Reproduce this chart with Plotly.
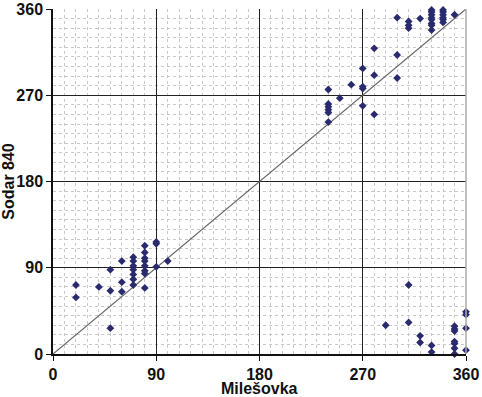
import plotly.graph_objects as go

# Milešovka (x) vs Sodar 840 (y) wind directions, degrees
mil = [20, 20, 40, 50, 50, 50, 60, 60, 60,
       70, 70, 70, 70, 70, 70, 70,
       80, 80, 80, 80, 80, 80, 80, 80,
       90, 90, 90, 100,
       240, 240, 240, 240, 240, 240, 250, 260, 270, 270, 270, 270, 280, 280, 280, 300, 300,
       300, 310, 310, 310, 320,
       330, 330, 330, 330, 330, 330, 330, 330,
       340, 340, 340, 340, 340, 340, 350,
       290, 310, 310, 320, 320, 330, 330,
       350, 350, 350, 350, 350, 350, 350,
       360, 360, 360, 360]
sodar = [72, 59, 70, 88, 66, 27, 97, 75, 65,
         101, 97, 92, 88, 83, 78, 72,
         113, 106, 100, 97, 92, 87, 84, 69,
         115, 117, 91, 97,
         276, 261, 258, 255, 252, 242, 267, 281, 298, 279, 277, 259, 319, 291, 250, 312, 288,
         351, 347, 343, 340, 350,
         359, 357, 354, 351, 349, 345, 343, 338,
         359, 357, 354, 351, 349, 346, 354,
         30, 72, 33, 19, 12, 9, 2,
         29, 26, 24, 13, 11, 6, 0,
         44, 41, 27, 4]

diag = [0, 360]
ticks = [0, 90, 180, 270, 360]
x_title = "Milešovka"
y_title = "Sodar 840"

FONT = "Liberation Sans, Arial, sans-serif"
TITLE_FONT = dict(family=FONT, size=16, color="#111111", weight="bold")

fig = go.Figure()
fig.add_trace(go.Scatter(x=diag, y=diag, mode="lines",
                         line=dict(color="#666666", width=1.2),
                         hoverinfo="skip", showlegend=False))
fig.add_trace(go.Scatter(x=mil, y=sodar, mode="markers", cliponaxis=False,
                         marker=dict(symbol="diamond", size=6, color="#2a2a6e"),
                         showlegend=False))

axis_common = dict(
    range=[0, 360], tickvals=ticks, ticktext=[str(t) for t in ticks],
    showgrid=True, gridcolor="#222222", gridwidth=1,
    minor=dict(dtick=10, showgrid=True, gridcolor="#c8c8c8", griddash="dot", gridwidth=1),
    showline=True, linecolor="#111111", linewidth=1.5,
    ticks="outside", ticklen=5, tickcolor="#111111",
    tickfont=dict(family=FONT, size=16, color="#111111", weight="bold"),
    zeroline=False, fixedrange=True, automargin=False,
)

fig.update_xaxes(**axis_common)
fig.update_yaxes(**axis_common,
                 title=dict(text=y_title, standoff=2, font=TITLE_FONT))

fig.add_annotation(text=x_title, xref="paper", yref="paper", x=0.5, y=0,
                   xanchor="center", yanchor="middle", yshift=-34, borderpad=0,
                   showarrow=False, font=TITLE_FONT)

# light right frame
fig.add_shape(type="line", xref="paper", yref="paper", x0=1, x1=1, y0=0, y1=1,
              line=dict(color="#aaaaaa", width=1.5))

fig.update_layout(
    width=482, height=397,
    margin=dict(l=53, r=16, t=9, b=43),
    paper_bgcolor="white", plot_bgcolor="white",
)

fig.write_html("out.html", config={"displayModeBar": False},
               post_script="document.body.style.margin='0';document.body.style.overflow='hidden';")
